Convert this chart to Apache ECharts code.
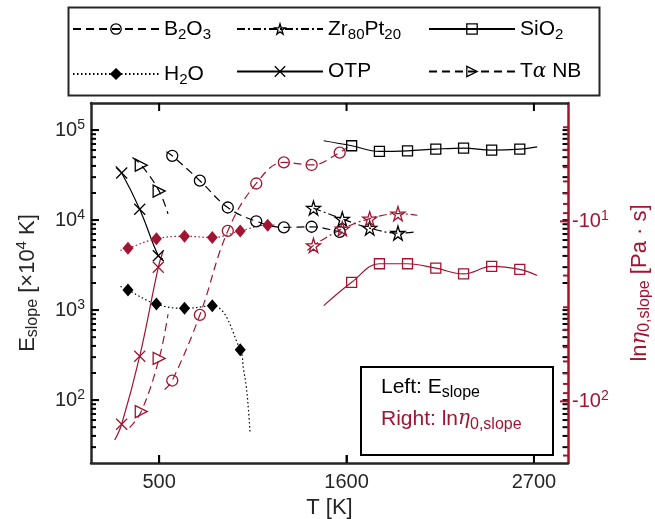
<!DOCTYPE html>
<html>
<head>
<meta charset="utf-8">
<script src="https://cdn.jsdelivr.net/npm/echarts@6/dist/echarts.min.js"></script>
<style>
html, body { margin: 0; padding: 0; background: #fff; }
#chart { width: 655px; height: 519px; }
</style>
</head>
<body>
<div id="chart"></div>
<script>
// temperatures [K] and values
const b2o3T = [577, 739, 903, 1070, 1232, 1395, 1560];
const b2o3E = [51800, 27400, 13800, 9700, 8300, 8430, 7410];
const b2o3Ln = [-76.6, -33.1, -11.3, -6.16, -4.70, -4.86, -4.15];
const b2o3EEnds = [[[542, 57400]], [[1593, 7170]]];
const b2o3LnEnds = [[[532, -86]], [[1606, -3.87]]];

const zrT = [1406, 1575, 1736, 1902];
const zrE = [13600, 10300, 8150, 7170];
const zrLn = [-13.6, -11.0, -9.66, -9.06];
const zrEEnds = [[], [[2007, 7410]]];
const zrLnEnds = [[[1370, -14.5]], [[2016, -9.25]]];

const sio2T = [1630, 1793, 1958, 2124, 2287, 2452, 2617];
const sio2E = [67000, 57900, 58800, 61500, 63100, 59900, 61500];
const sio2Ln = [-21.8, -17.2, -17.2, -18.2, -19.6, -17.8, -18.5];
const sio2EEnds = [[[1466, 76100]], [[2719, 65200]]];
const sio2LnEnds = [[[1466, -29.4]], [[2719, -20.0]]];

const h2oT = [317, 484, 649, 812, 976];
const h2oE = [1667, 1166, 1045, 1117, 362];
const h2oEEnds = [[[273, 1830]], [[995, 221], [1011, 144], [1024, 79], [1034, 42]]];
const h2oLnT = [317, 484, 649, 812, 976, 1137];
const h2oLn = [-14.1, -12.5, -12.1, -12.3, -11.3, -10.5];
const h2oLnEnds = [[[273, -14.5]], [[1183, -10.5]]];

const otpT = [280, 386, 495];
const otpE = [33300, 13200, 4010];
const otpLn = [-134, -56.1, -18.0];
const otpEEnds = [[[245, 39500]], [[522, 3690]]];
const otpLnEnds = [[[239, -164]], [[522, -14.8]]];

const tanbT = [395, 500];
const tanbE = [40800, 21000];
const tanbLn = [-114, -57.7];
const tanbEEnds = [[[343, 49700]], [[552, 11700]]];
const tanbLnEnds = [[[327, -140]], [[552, -32.8]]];

// axis ranges and ticks
const xMin = 100, xMax = 2900;
const eMin = 20, eMax = 200000;
const lnMin = 2.2, lnMax = 220;
const xTicks = [500, 1600, 2700];
const leftTicks = [100, 1000, 10000, 100000];
const leftTickExp = { 100: '2', 1000: '3', 10000: '4', 100000: '5' };
const leftMinor = [30, 40, 50, 60, 70, 80, 90, 200, 300, 400, 500, 600, 700, 800, 900,
  2000, 3000, 4000, 5000, 6000, 7000, 8000, 9000, 20000, 30000, 40000, 50000, 60000, 70000, 80000, 90000];
const rightTicks = [10, 100];
const rightTickExp = { 10: '1', 100: '2' };
const rightMinor = [3, 4, 5, 6, 7, 8, 9, 20, 30, 40, 50, 60, 70, 80, 90, 200];

const black = '#000000';
const red = '#A2142F';
const txt = '#262626';
const clear = 'rgba(0,0,0,0)';
const font = '"Liberation Sans", Arial, sans-serif';
const greek = '"DejaVu Serif", serif';

const SYM = {
  circle: 'circle',
  square: 'rect',
  diamond: 'diamond',
  star: 'path://M50,0 L61,35 L98,35 L68,57 L79,91 L50,70 L21,91 L32,57 L2,35 L39,35 Z',
  cross: 'path://M0,0 L10,10 M10,0 L0,10',
  tri: 'path://M0,0 L10,5 L0,10 Z',
};

function buildData(ends, xs, ys, neg) {
  const f = (v) => (neg ? Math.abs(v) : v);
  return [
    ...ends[0].map((p) => ({ value: [p[0], f(p[1])], symbol: 'none' })),
    ...xs.map((x, i) => [x, f(ys[i])]),
    ...ends[1].map((p) => ({ value: [p[0], f(p[1])], symbol: 'none' })),
  ];
}

function makeSeries(name, data, yIdx, color, symbol, size, dash, filled) {
  return {
    name,
    type: 'line',
    yAxisIndex: yIdx,
    data,
    smooth: 0.4,
    symbol,
    symbolSize: size,
    showSymbol: true,
    lineStyle: { color, width: 1.2, type: dash },
    itemStyle: {
      color: filled ? color : clear,
      borderColor: color,
      borderWidth: filled ? 0 : 1.3,
    },
  };
}

// tick marks drawn as small rects placed through the axes' own scales
function tickMarks(name, data, yIdx, color, size, offset) {
  return {
    name,
    type: 'scatter',
    yAxisIndex: yIdx,
    data,
    symbol: 'rect',
    symbolSize: size,
    symbolOffset: offset,
    itemStyle: { color, opacity: 1 },
    clip: false,
    silent: true,
    z: 10,
  };
}

const dashed = [8, 5];
const dashDot = [8, 3, 2, 3];
const dotted = [1.5, 2.5];

const series = [
  makeSeries('B2O3', buildData(b2o3EEnds, b2o3T, b2o3E), 0, black, SYM.circle, 11, dashed),
  makeSeries('Zr80Pt20', buildData(zrEEnds, zrT, zrE), 0, black, SYM.star, 14, dashDot),
  makeSeries('SiO2', buildData(sio2EEnds, sio2T, sio2E), 0, black, SYM.square, 10, 'solid'),
  makeSeries('H2O', buildData(h2oEEnds, h2oT, h2oE), 0, black, SYM.diamond, [11, 13], dotted, true),
  makeSeries('OTP', buildData(otpEEnds, otpT, otpE), 0, black, SYM.cross, 11, 'solid'),
  makeSeries('TaNB', buildData(tanbEEnds, tanbT, tanbE), 0, black, SYM.tri, [12, 12], dashed),

  makeSeries('B2O3 ln', buildData(b2o3LnEnds, b2o3T, b2o3Ln, true), 1, red, SYM.circle, 11, dashed),
  makeSeries('Zr80Pt20 ln', buildData(zrLnEnds, zrT, zrLn, true), 1, red, SYM.star, 14, dashDot),
  makeSeries('SiO2 ln', buildData(sio2LnEnds, sio2T, sio2Ln, true), 1, red, SYM.square, 10, 'solid'),
  makeSeries('H2O ln', buildData(h2oLnEnds, h2oLnT, h2oLn, true), 1, red, SYM.diamond, [11, 13], dotted, true),
  makeSeries('OTP ln', buildData(otpLnEnds, otpT, otpLn, true), 1, red, SYM.cross, 11, 'solid'),
  makeSeries('TaNB ln', buildData(tanbLnEnds, tanbT, tanbLn, true), 1, red, SYM.tri, [12, 12], dashed),

  tickMarks('tx-bottom', xTicks.map((x) => [x, eMin]), 0, black, [2, 8], [0, -4]),
  tickMarks('tx-top', xTicks.map((x) => [x, eMax]), 0, black, [2, 8], [0, 4]),
  tickMarks('ty-left', leftTicks.map((v) => [xMin, v]), 0, black, [8, 2], [4, 0]),
  tickMarks('ty-left-minor', leftMinor.map((v) => [xMin, v]), 0, black, [5, 2], [2.5, 0]),
  tickMarks('ty-right-mirror', leftMinor.concat(leftTicks).map((v) => [xMax, v]), 0, black, [5, 2], [-3, 0]),
  tickMarks('ty-right', rightTicks.map((v) => [xMax, v]), 1, red, [8, 2], [-4, 0]),
  tickMarks('ty-right-minor', rightMinor.map((v) => [xMax, v]), 1, red, [5, 2], [-2.5, 0]),
];

const legendText = {
  B2O3: '{t|B}{s|2}{t|O}{s|3}',
  Zr80Pt20: '{t|Zr}{s|80}{t|Pt}{s|20}',
  SiO2: '{t|SiO}{s|2}',
  H2O: '{t|H}{s|2}{t|O}',
  OTP: '{t|OTP}',
  TaNB: '{t|T}{g|α}{t| NB}',
};

const legendRich = {
  t: { fontSize: 21, fontFamily: font, color: black, lineHeight: 24 },
  s: { fontSize: 15, fontFamily: font, color: black, lineHeight: 16, padding: [11, 0, 0, 0] },
  g: { fontSize: 20, fontFamily: greek, fontStyle: 'italic', color: black, lineHeight: 24 },
};

function legendCol(names, left) {
  return {
    data: names,
    orient: 'vertical',
    left,
    top: 16,
    itemWidth: 86,
    itemHeight: 13,
    itemGap: 19,
    padding: 0,
    selectedMode: false,
    formatter: (n) => legendText[n],
    textStyle: { rich: legendRich },
    itemStyle: { borderWidth: 1.3 },
  };
}

const sup = (c) => ({ fontSize: 14, fontFamily: font, color: c, padding: [0, 0, 10, 0] });
const base = (c, s) => ({ fontSize: s || 20, fontFamily: font, color: c });

const chart = echarts.init(document.getElementById('chart'));
chart.setOption({
  animation: false,
  grid: { left: 91, right: 87, top: 103, bottom: 56, outerBoundsMode: 'none' },
  legend: [
    legendCol(['B2O3', 'H2O'], 72),
    legendCol(['Zr80Pt20', 'OTP'], 236),
    legendCol(['SiO2', 'TaNB'], 428),
  ],
  xAxis: [
    {
      type: 'value', min: xMin, max: xMax, position: 'bottom',
      axisLine: { show: true, lineStyle: { color: txt, width: 2.5 } },
      axisTick: { show: true, inside: true, length: 8, lineStyle: { width: 2, color: txt }, customValues: xTicks },
      axisLabel: {
        customValues: xTicks, fontSize: 20, fontFamily: font, color: txt, margin: 9,
        formatter: (v) => String(v),
      },
      splitLine: { show: false },
      name: 'T [K]', nameLocation: 'middle', nameGap: 33,
      nameTextStyle: { fontSize: 22, fontFamily: font, color: txt },
    },
    {
      type: 'value', min: xMin, max: xMax, position: 'top',
      axisLine: { show: true, lineStyle: { color: txt, width: 2.5 } },
      axisTick: { show: false },
      axisLabel: { show: false },
      splitLine: { show: false },
    },
  ],
  yAxis: [
    {
      type: 'log', min: eMin, max: eMax, position: 'left',
      axisLine: { show: true, lineStyle: { color: txt, width: 2.5 } },
      axisTick: { show: true, inside: true, length: 8, lineStyle: { width: 2, color: txt }, customValues: leftTicks },
      axisLabel: {
        customValues: leftTicks, margin: 6,
        formatter: (v) => '{b|10}{p|' + leftTickExp[v] + '}',
        rich: { b: base(txt), p: sup(txt) },
      },
      splitLine: { show: false },
      name: '{e|E}{s|slope}{e| [×10}{p|4}{e| K]}',
      nameLocation: 'middle', nameGap: 50, nameRotate: 90,
      nameTextStyle: {
        rich: {
          e: base(txt, 22),
          s: { fontSize: 16, fontFamily: font, color: txt, padding: [11, 0, 0, 0] },
          p: { fontSize: 15, fontFamily: font, color: txt, padding: [0, 0, 11, 0] },
        },
      },
    },
    {
      type: 'log', min: lnMin, max: lnMax, inverse: true, position: 'right',
      axisLine: { show: true, lineStyle: { color: red, width: 2.5 } },
      axisTick: { show: false },
      axisLabel: {
        customValues: rightTicks, margin: 4,
        formatter: (v) => '{b|-10}{p|' + rightTickExp[v] + '}',
        rich: { b: base(red), p: sup(red) },
      },
      splitLine: { show: false },
      name: '{l|ln}{g|η}{s|0,slope}{l| [Pa · s]}',
      nameLocation: 'middle', nameGap: 58, nameRotate: 90,
      nameTextStyle: {
        rich: {
          l: base(red, 22),
          g: { fontSize: 21, fontFamily: greek, fontStyle: 'italic', color: red },
          s: { fontSize: 16, fontFamily: font, color: red, padding: [11, 0, 0, 0] },
        },
      },
    },
  ],
  graphic: [
    {
      type: 'rect', left: 66, top: 5, z: 1,
      shape: { width: 531, height: 88 },
      style: { fill: 'none', stroke: txt, lineWidth: 2 },
    },
    {
      type: 'rect', left: 360, top: 366, z: 10,
      shape: { width: 192, height: 88 },
      style: { fill: '#fff', stroke: black, lineWidth: 2 },
    },
    {
      type: 'text', left: 381, top: 373, z: 11,
      style: {
        text: '{k|Left: E}{ks|slope}\n{r|Right: ln}{rg|η}{rs|0,slope}',
        rich: {
          k: { fontSize: 21, fontFamily: font, fill: black, lineHeight: 32 },
          ks: { fontSize: 16, fontFamily: font, fill: black, lineHeight: 16, padding: [12, 0, 0, 0] },
          r: { fontSize: 21, fontFamily: font, fill: red, lineHeight: 32 },
          rg: { fontSize: 20, fontFamily: greek, fontStyle: 'italic', fill: red, lineHeight: 32 },
          rs: { fontSize: 16, fontFamily: font, fill: red, lineHeight: 16, padding: [12, 0, 0, 0] },
        },
      },
    },
  ],
  series,
});
</script>
</body>
</html>
